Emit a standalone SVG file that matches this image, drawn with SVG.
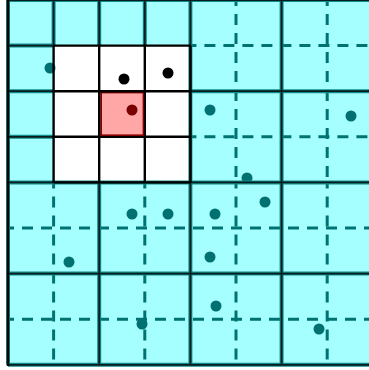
<svg xmlns="http://www.w3.org/2000/svg" width="369" height="370" viewBox="0 0 369 370">
<style>
.dash{stroke:#007272;stroke-width:3;stroke-dasharray:11 8;fill:none}
.under{stroke:#118c8c;stroke-width:4;fill:none}
.line{stroke:#0a1c1c;stroke-width:1.8;fill:none}
.blk{stroke:#000;stroke-width:2.4;fill:none}
.pt{fill:#007070}
</style>
<rect width="369" height="370" fill="#fff"/>
<g id="background">
<rect x="8" y="0" width="365" height="364.8" fill="#a6ffff"/>
<rect x="53.6" y="45.6" width="136.8" height="136.8" fill="#fff"/>
</g>
<g id="dashed">
<path class="dash" stroke-dashoffset="5" d="M236 0V182.4M327.2 0V182.4M53.6 182.4V364.8M144.8 182.4V364.8M236 182.4V364.8M327.2 182.4V364.8"/>
<path class="dash" stroke-dashoffset="5" d="M190.4 45.6H373M190.4 136.8H373M8 228H373M8 319.2H373"/>
</g>
<g id="points-under">
<circle class="pt" cx="50" cy="68" r="5.5"/>
<circle class="pt" cx="247" cy="178" r="5.5"/>
<circle class="pt" cx="142" cy="324" r="5.5"/>
<circle class="pt" cx="319" cy="329" r="5.5"/>
</g>
<g id="connectors">
<path class="under" d="M8 0H373M8 45.6H53.6M8 91.2H53.6M8 136.8H53.6M190.4 91.2H373M8 182.4H373M8 273.6H373M8 364.8H373M53.6 0V45.6M99.2 0V45.6M144.8 0V45.6M190.4 0V364.8M281.6 0V364.8M99.2 182.4V364.8M8 0V364.8"/>
<path class="line" d="M8 0H373M8 45.6H53.6M8 91.2H53.6M8 136.8H53.6M190.4 91.2H373M8 182.4H373M8 273.6H373M8 364.8H373M53.6 0V45.6M99.2 0V45.6M144.8 0V45.6M190.4 0V364.8M281.6 0V364.8M99.2 182.4V364.8"/>
<path stroke="#000" stroke-width="2.4" fill="none" d="M8 0V366"/>
</g>
<g id="window">
<path class="blk" d="M53.6 45.6H190.4M53.6 91.2H190.4M53.6 136.8H190.4M53.6 182.4H190.4M53.6 45.6V182.4M99.2 45.6V182.4M144.8 45.6V182.4M190.4 45.6V182.4"/>
</g>
<g id="center-cell">
<rect x="101.2" y="92.6" width="42.2" height="42.6" fill="#ffa6a6" stroke="#8a0000" stroke-width="1.6"/>
<path class="blk" d="M99.2 91.2H144.8M99.2 91.2V136.8"/>
</g>
<g id="points">
<circle cx="124" cy="79" r="5.5" fill="#000"/>
<circle cx="168" cy="73" r="5.5" fill="#000"/>
<circle cx="132" cy="110" r="5.5" fill="#7a0000"/>
<circle class="pt" cx="210" cy="110" r="5.5"/>
<circle class="pt" cx="351" cy="116" r="5.5"/>
<circle class="pt" cx="132" cy="214" r="5.5"/>
<circle class="pt" cx="168" cy="214" r="5.5"/>
<circle class="pt" cx="69" cy="262" r="5.5"/>
<circle class="pt" cx="215" cy="214" r="5.5"/>
<circle class="pt" cx="265" cy="202" r="5.5"/>
<circle class="pt" cx="210" cy="257" r="5.5"/>
<circle class="pt" cx="216" cy="306" r="5.5"/>
</g>
</svg>
